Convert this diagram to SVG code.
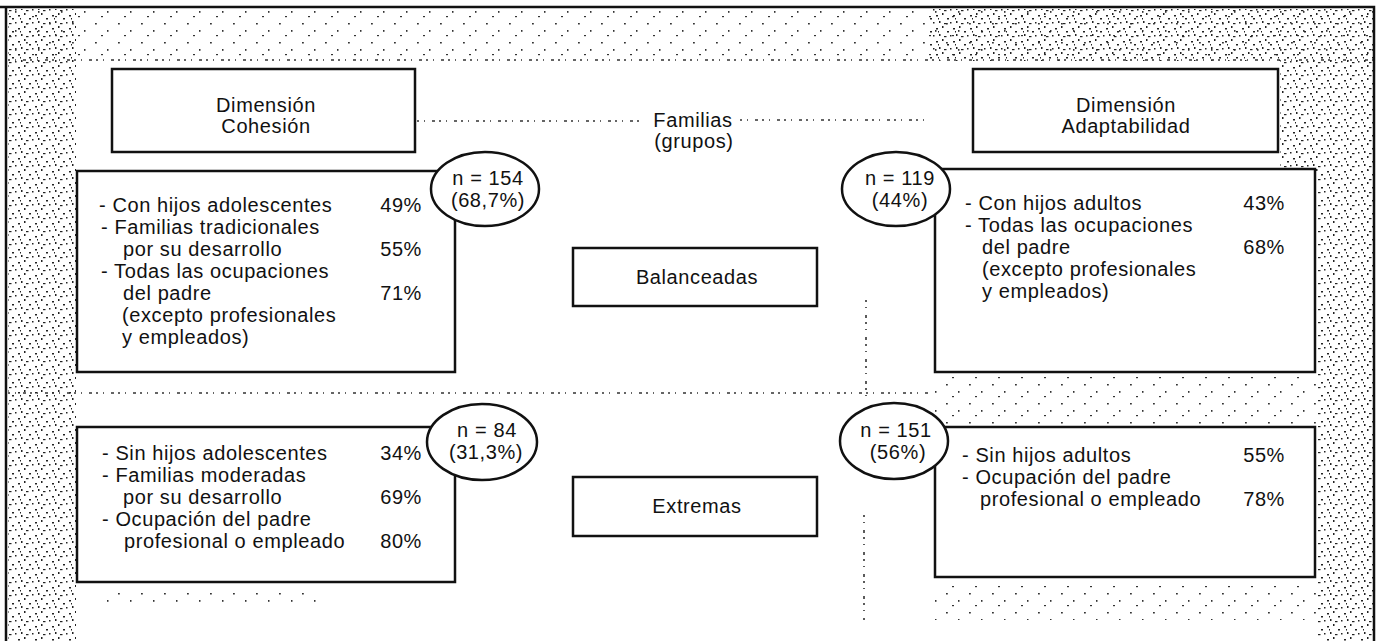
<svg xmlns="http://www.w3.org/2000/svg" width="1379" height="641" viewBox="0 0 1379 641">
  <style>
    .t { font-family: "Liberation Sans", Arial, sans-serif; font-size: 20px; letter-spacing: 0.6px; fill: #111; }
    .c { text-anchor: middle; }
    .e { text-anchor: end; }
    .box { fill: #fff; stroke: #111; stroke-width: 2.5; }
    .frame { fill: none; stroke: #111; stroke-width: 2.5; }
    .dot { stroke: #333; stroke-width: 1.6; stroke-dasharray: 2 5 1 7 3 4; fill: none; }
  </style>
  <defs>
    <pattern id="dense" width="17" height="13" patternUnits="userSpaceOnUse">
      <rect x="1" y="2" width="2" height="1.5" fill="#222"/>
      <rect x="7" y="0" width="1.5" height="2" fill="#222"/>
      <rect x="12" y="5" width="2" height="1.5" fill="#222"/>
      <rect x="4" y="8" width="1.5" height="2" fill="#222"/>
      <rect x="9" y="10" width="2.5" height="1.2" fill="#222"/>
      <rect x="15" y="9" width="1.5" height="1.5" fill="#222"/>
      <rect x="3" y="5" width="1" height="1.5" fill="#222"/>
    </pattern>
    <pattern id="sparse" width="23" height="19" patternUnits="userSpaceOnUse">
      <rect x="3" y="4" width="1.8" height="1.5" fill="#333"/>
      <rect x="15" y="11" width="1.5" height="1.8" fill="#333"/>
      <rect x="9" y="16" width="2" height="1.2" fill="#333"/>
    </pattern>
  </defs>

  <rect width="1379" height="641" fill="#fff"/>

  <g id="texture">
    <rect x="8" y="9" width="68" height="632" fill="url(#dense)"/>
    <rect x="8" y="9" width="1366" height="52" fill="url(#sparse)"/>
    <rect x="930" y="9" width="444" height="52" fill="url(#dense)"/>
    <rect x="1280" y="60" width="94" height="112" fill="url(#dense)"/>
    <rect x="1318" y="170" width="56" height="471" fill="url(#dense)"/>
    <rect x="935" y="376" width="383" height="48" fill="url(#sparse)"/>
    <rect x="935" y="585" width="383" height="35" fill="url(#sparse)"/>
    <rect x="100" y="590" width="220" height="14" fill="url(#sparse)"/>
    <path class="dot" d="M8 60 H1374"/>
    <path class="dot" d="M417 121 H640 M740 120 H930"/>
    <path class="dot" d="M8 393 H930"/>
    <path class="dot" d="M866 300 V400 M864 515 V620"/>
  </g>

  <path class="frame" d="M0 7 H1374 V641 M6 7 V641"/>

  <g id="connectors"></g>

  <g id="familias">
    <text class="t c" x="693" y="127">Familias</text>
    <text class="t c" x="694" y="148">(grupos)</text>
  </g>

  <g id="dim-cohesion">
    <rect class="box" x="112" y="69" width="303" height="83"/>
    <text class="t c" x="266" y="112">Dimensión</text>
    <text class="t c" x="266" y="133">Cohesión</text>
  </g>

  <g id="dim-adaptabilidad">
    <rect class="box" x="973" y="69" width="305" height="83"/>
    <text class="t c" x="1126" y="112">Dimensión</text>
    <text class="t c" x="1126" y="133">Adaptabilidad</text>
  </g>

  <g id="cohesion-balanceadas">
    <rect class="box" x="77" y="171" width="378" height="201"/>
    <text class="t" x="99" y="212">- Con hijos adolescentes</text>
    <text class="t e" x="422" y="212">49%</text>
    <text class="t" x="101" y="234">- Familias tradicionales</text>
    <text class="t" x="123" y="256">por su desarrollo</text>
    <text class="t e" x="422" y="256">55%</text>
    <text class="t" x="101" y="278">- Todas las ocupaciones</text>
    <text class="t" x="123" y="300">del padre</text>
    <text class="t e" x="422" y="300">71%</text>
    <text class="t" x="122" y="322">(excepto profesionales</text>
    <text class="t" x="122" y="344">y empleados)</text>
  </g>

  <g id="adaptabilidad-balanceadas">
    <rect class="box" x="935" y="169" width="380" height="203"/>
    <text class="t" x="965" y="210">- Con hijos adultos</text>
    <text class="t e" x="1285" y="210">43%</text>
    <text class="t" x="965" y="232">- Todas las ocupaciones</text>
    <text class="t" x="982" y="254">del padre</text>
    <text class="t e" x="1285" y="254">68%</text>
    <text class="t" x="982" y="276">(excepto profesionales</text>
    <text class="t" x="982" y="298">y empleados)</text>
  </g>

  <g id="cohesion-extremas">
    <rect class="box" x="77" y="427" width="378" height="155"/>
    <text class="t" x="102" y="460">- Sin hijos adolescentes</text>
    <text class="t e" x="422" y="460">34%</text>
    <text class="t" x="102" y="482">- Familias moderadas</text>
    <text class="t" x="123" y="504">por su desarrollo</text>
    <text class="t e" x="422" y="504">69%</text>
    <text class="t" x="102" y="526">- Ocupación del padre</text>
    <text class="t" x="124" y="548">profesional o empleado</text>
    <text class="t e" x="422" y="548">80%</text>
  </g>

  <g id="adaptabilidad-extremas">
    <rect class="box" x="935" y="427" width="380" height="150"/>
    <text class="t" x="962" y="462">- Sin hijos adultos</text>
    <text class="t e" x="1285" y="462">55%</text>
    <text class="t" x="962" y="484">- Ocupación del padre</text>
    <text class="t" x="980" y="506">profesional o empleado</text>
    <text class="t e" x="1285" y="506">78%</text>
  </g>

  <g id="balanceadas">
    <rect class="box" x="573" y="248" width="244" height="58"/>
    <text class="t c" x="697" y="284">Balanceadas</text>
  </g>

  <g id="extremas">
    <rect class="box" x="573" y="477" width="244" height="59"/>
    <text class="t c" x="697" y="513">Extremas</text>
  </g>

  <g id="n-154">
    <ellipse class="box" cx="485" cy="189" rx="54" ry="37"/>
    <text class="t c" x="488" y="185">n = 154</text>
    <text class="t c" x="488" y="207">(68,7%)</text>
  </g>

  <g id="n-119">
    <ellipse class="box" cx="896" cy="189" rx="54" ry="37"/>
    <text class="t c" x="900" y="185">n = 119</text>
    <text class="t c" x="900" y="207">(44%)</text>
  </g>

  <g id="n-84">
    <ellipse class="box" cx="482" cy="442" rx="55" ry="38"/>
    <text class="t c" x="487" y="437">n = 84</text>
    <text class="t c" x="486" y="459">(31,3%)</text>
  </g>

  <g id="n-151">
    <ellipse class="box" cx="894" cy="441" rx="54" ry="38"/>
    <text class="t c" x="896" y="437">n = 151</text>
    <text class="t c" x="898" y="459">(56%)</text>
  </g>
</svg>
